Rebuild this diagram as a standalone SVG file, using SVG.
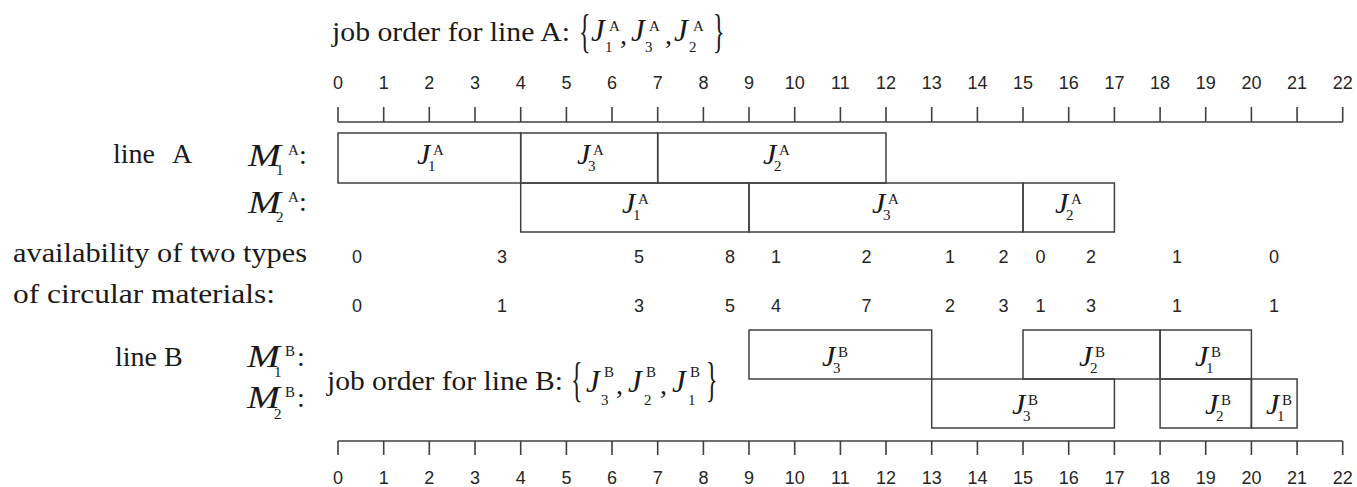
<svg xmlns="http://www.w3.org/2000/svg" width="1357" height="487" viewBox="0 0 1357 487">
<style>
.ax{stroke:#404040;stroke-width:1.6;fill:none}
.box{stroke:#404040;stroke-width:1.5;fill:none}
.tk{font-family:"Liberation Sans",Arial,sans-serif;font-size:18px;fill:#262626;text-anchor:middle}
.sr{font-family:"Liberation Serif","Times New Roman",serif;fill:#1a1a1a}
.t{font-size:28px}
.ji{font-style:italic;font-size:30px}
.jt{font-style:italic;font-size:31px}
.mi{font-style:italic;font-size:31px}
.sm{font-size:15px}
.br{font-size:40px}
</style>
<rect width="1357" height="487" fill="#ffffff"/>

<g id="title-a">
<text class="sr t" x="332" y="41" textLength="238" lengthAdjust="spacingAndGlyphs">job order for line A:</text>
<text class="sr br" transform="translate(579 47) scale(0.6 1.15)">{</text>
<text class="sr jt" x="591" y="41">J</text><text class="sr sm" x="609" y="31">A</text><text class="sr sm" x="605" y="52">1</text>
<text class="sr t" x="620" y="44">,</text>
<text class="sr jt" x="631" y="41">J</text><text class="sr sm" x="649" y="31">A</text><text class="sr sm" x="645" y="52">3</text>
<text class="sr t" x="665" y="44">,</text>
<text class="sr jt" x="674" y="41">J</text><text class="sr sm" x="693" y="31">A</text><text class="sr sm" x="689" y="52">2</text>
<text class="sr br" transform="translate(713 47) scale(0.6 1.15)">}</text>
</g>

<g id="axis-top">
<path class="ax" d="M338 122H1342.7M338 107V122M383.7 107V122M429.3 107V122M475 107V122M520.7 107V122M566.4 107V122M612 107V122M657.7 107V122M703.4 107V122M749 107V122M794.7 107V122M840.4 107V122M886 107V122M931.7 107V122M977.4 107V122M1023 107V122M1068.7 107V122M1114.4 107V122M1160.1 107V122M1205.7 107V122M1251.4 107V122M1297.1 107V122M1342.7 107V122"/>
<text class="tk" x="338" y="89">0</text><text class="tk" x="383.7" y="89">1</text><text class="tk" x="429.3" y="89">2</text><text class="tk" x="475" y="89">3</text><text class="tk" x="520.7" y="89">4</text><text class="tk" x="566.4" y="89">5</text><text class="tk" x="612" y="89">6</text><text class="tk" x="657.7" y="89">7</text><text class="tk" x="703.4" y="89">8</text><text class="tk" x="749" y="89">9</text><text class="tk" x="794.7" y="89">10</text><text class="tk" x="840.4" y="89">11</text><text class="tk" x="886" y="89">12</text><text class="tk" x="931.7" y="89">13</text><text class="tk" x="977.4" y="89">14</text><text class="tk" x="1023" y="89">15</text><text class="tk" x="1068.7" y="89">16</text><text class="tk" x="1114.4" y="89">17</text><text class="tk" x="1160.1" y="89">18</text><text class="tk" x="1205.7" y="89">19</text><text class="tk" x="1251.4" y="89">20</text><text class="tk" x="1297.1" y="89">21</text><text class="tk" x="1342.7" y="89">22</text>
</g>

<g id="labels-a">
<text class="sr t" x="113" y="163">line</text><text class="sr t" x="172" y="163">A</text>
<text class="sr mi" x="248" y="166" textLength="33" lengthAdjust="spacingAndGlyphs">M</text><text class="sr sm" x="288" y="155">A</text><text class="sr sm" x="276" y="175">1</text><text class="sr t" x="299" y="164">:</text>
<text class="sr mi" x="248" y="213" textLength="33" lengthAdjust="spacingAndGlyphs">M</text><text class="sr sm" x="288" y="202">A</text><text class="sr sm" x="276" y="222">2</text><text class="sr t" x="299" y="211">:</text>
</g>

<g id="a-m1-j1"><rect class="box" x="338" y="133" width="182.7" height="50"/><text class="sr ji" x="417" y="164">J</text><text class="sr sm" x="433" y="155">A</text><text class="sr sm" x="428" y="171">1</text></g>
<g id="a-m1-j3"><rect class="box" x="520.7" y="133" width="137" height="50"/><text class="sr ji" x="577" y="164">J</text><text class="sr sm" x="593" y="155">A</text><text class="sr sm" x="588" y="171">3</text></g>
<g id="a-m1-j2"><rect class="box" x="657.7" y="133" width="228.3" height="50"/><text class="sr ji" x="763" y="164">J</text><text class="sr sm" x="779" y="155">A</text><text class="sr sm" x="774" y="171">2</text></g>
<g id="a-m2-j1"><rect class="box" x="520.7" y="183" width="228.3" height="49"/><text class="sr ji" x="622" y="213">J</text><text class="sr sm" x="638" y="204">A</text><text class="sr sm" x="633" y="220">1</text></g>
<g id="a-m2-j3"><rect class="box" x="749" y="183" width="274" height="49"/><text class="sr ji" x="872" y="213">J</text><text class="sr sm" x="888" y="204">A</text><text class="sr sm" x="883" y="220">3</text></g>
<g id="a-m2-j2"><rect class="box" x="1023" y="183" width="91.4" height="49"/><text class="sr ji" x="1055" y="213">J</text><text class="sr sm" x="1071" y="204">A</text><text class="sr sm" x="1066" y="220">2</text></g>

<g id="availability">
<text class="sr t" x="13" y="262" textLength="294" lengthAdjust="spacingAndGlyphs">availability of two types</text>
<text class="sr t" x="13" y="303" textLength="262" lengthAdjust="spacingAndGlyphs">of circular materials:</text>
<text class="tk" x="357" y="263">0</text><text class="tk" x="502" y="263">3</text><text class="tk" x="639" y="263">5</text><text class="tk" x="730" y="263">8</text><text class="tk" x="776" y="263">1</text><text class="tk" x="866.5" y="263">2</text><text class="tk" x="950" y="263">1</text><text class="tk" x="1003.5" y="263">2</text><text class="tk" x="1040.5" y="263">0</text><text class="tk" x="1091" y="263">2</text><text class="tk" x="1177" y="263">1</text><text class="tk" x="1274" y="263">0</text>
<text class="tk" x="357" y="312">0</text><text class="tk" x="502" y="312">1</text><text class="tk" x="639" y="312">3</text><text class="tk" x="730" y="312">5</text><text class="tk" x="776" y="312">4</text><text class="tk" x="866.5" y="312">7</text><text class="tk" x="950" y="312">2</text><text class="tk" x="1003.5" y="312">3</text><text class="tk" x="1040.5" y="312">1</text><text class="tk" x="1091" y="312">3</text><text class="tk" x="1177" y="312">1</text><text class="tk" x="1274" y="312">1</text>
</g>

<g id="labels-b">
<text class="sr t" x="115" y="366">line B</text>
<text class="sr mi" x="247" y="367" textLength="33" lengthAdjust="spacingAndGlyphs">M</text><text class="sr sm" x="285" y="356">B</text><text class="sr sm" x="274" y="377">1</text><text class="sr t" x="297" y="366">:</text>
<text class="sr mi" x="247" y="408" textLength="33" lengthAdjust="spacingAndGlyphs">M</text><text class="sr sm" x="285" y="397">B</text><text class="sr sm" x="274" y="419">2</text><text class="sr t" x="297" y="407">:</text>
</g>

<g id="title-b">
<text class="sr t" x="327" y="390" textLength="236" lengthAdjust="spacingAndGlyphs">job order for line B:</text>
<text class="sr br" transform="translate(571 396) scale(0.6 1.2)">{</text>
<text class="sr jt" x="586" y="392">J</text><text class="sr sm" x="604" y="377">B</text><text class="sr sm" x="601" y="405">3</text>
<text class="sr t" x="616" y="394">,</text>
<text class="sr jt" x="628" y="392">J</text><text class="sr sm" x="646" y="377">B</text><text class="sr sm" x="644" y="405">2</text>
<text class="sr t" x="660" y="394">,</text>
<text class="sr jt" x="672" y="392">J</text><text class="sr sm" x="690" y="377">B</text><text class="sr sm" x="688" y="405">1</text>
<text class="sr br" transform="translate(706 396) scale(0.6 1.2)">}</text>
</g>

<g id="b-m1-j3"><rect class="box" x="749" y="330" width="182.7" height="49"/><text class="sr ji" x="822" y="366">J</text><text class="sr sm" x="838" y="357">B</text><text class="sr sm" x="833" y="373">3</text></g>
<g id="b-m1-j2"><rect class="box" x="1023" y="330" width="137.1" height="49"/><text class="sr ji" x="1079" y="366">J</text><text class="sr sm" x="1095" y="357">B</text><text class="sr sm" x="1090" y="373">2</text></g>
<g id="b-m1-j1"><rect class="box" x="1160.1" y="330" width="91.3" height="49"/><text class="sr ji" x="1195" y="366">J</text><text class="sr sm" x="1211" y="357">B</text><text class="sr sm" x="1206" y="373">1</text></g>
<g id="b-m2-j3"><rect class="box" x="931.7" y="379" width="182.7" height="49"/><text class="sr ji" x="1012" y="414">J</text><text class="sr sm" x="1028" y="405">B</text><text class="sr sm" x="1023" y="421">3</text></g>
<g id="b-m2-j2"><rect class="box" x="1160.1" y="379" width="91.3" height="49"/><text class="sr ji" x="1205" y="414">J</text><text class="sr sm" x="1221" y="405">B</text><text class="sr sm" x="1216" y="421">2</text></g>
<g id="b-m2-j1"><rect class="box" x="1251.4" y="379" width="45.7" height="49"/><text class="sr ji" x="1266" y="414">J</text><text class="sr sm" x="1282" y="405">B</text><text class="sr sm" x="1277" y="421">1</text></g>

<g id="axis-bottom">
<path class="ax" d="M338 441H1342.7M338 441V455M383.7 441V455M429.3 441V455M475 441V455M520.7 441V455M566.4 441V455M612 441V455M657.7 441V455M703.4 441V455M749 441V455M794.7 441V455M840.4 441V455M886 441V455M931.7 441V455M977.4 441V455M1023 441V455M1068.7 441V455M1114.4 441V455M1160.1 441V455M1205.7 441V455M1251.4 441V455M1297.1 441V455M1342.7 441V455"/>
<text class="tk" x="338" y="484">0</text><text class="tk" x="383.7" y="484">1</text><text class="tk" x="429.3" y="484">2</text><text class="tk" x="475" y="484">3</text><text class="tk" x="520.7" y="484">4</text><text class="tk" x="566.4" y="484">5</text><text class="tk" x="612" y="484">6</text><text class="tk" x="657.7" y="484">7</text><text class="tk" x="703.4" y="484">8</text><text class="tk" x="749" y="484">9</text><text class="tk" x="794.7" y="484">10</text><text class="tk" x="840.4" y="484">11</text><text class="tk" x="886" y="484">12</text><text class="tk" x="931.7" y="484">13</text><text class="tk" x="977.4" y="484">14</text><text class="tk" x="1023" y="484">15</text><text class="tk" x="1068.7" y="484">16</text><text class="tk" x="1114.4" y="484">17</text><text class="tk" x="1160.1" y="484">18</text><text class="tk" x="1205.7" y="484">19</text><text class="tk" x="1251.4" y="484">20</text><text class="tk" x="1297.1" y="484">21</text><text class="tk" x="1342.7" y="484">22</text>
</g>
</svg>
